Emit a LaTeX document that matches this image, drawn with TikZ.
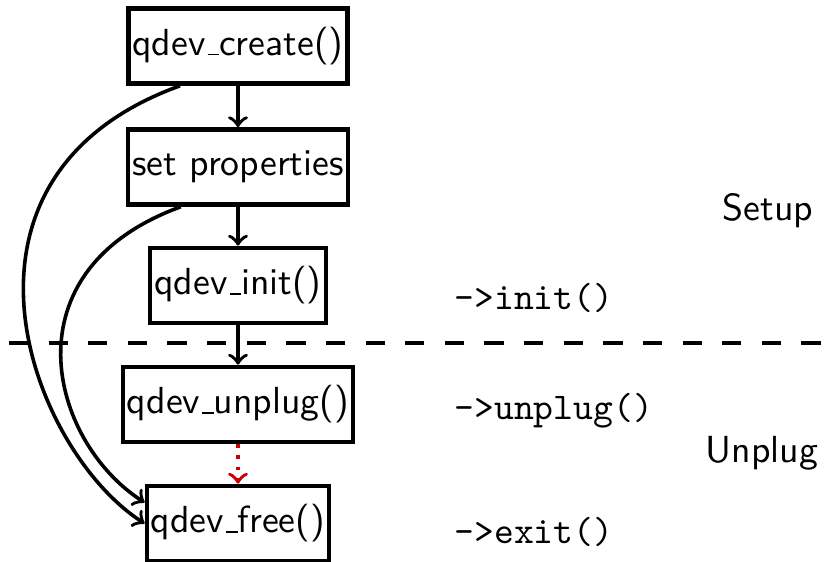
\documentclass[tikz,border=0pt]{standalone}
\usetikzlibrary{calc}
\definecolor{dotred}{RGB}{204,0,0}
% underscore sitting on the baseline, as in OT1 fonts
\newcommand\ulbar{\leavevmode\kern.06em\vbox{\hrule width.3em}}
\begin{document}
\begin{tikzpicture}[x=0.265pt,y=0.265pt,
  fnbox/.style={draw, line width=1.2pt, font=\sffamily, minimum height=19.9pt, inner xsep=1.1pt},
  link/.style={->, line width=0.95pt},
  phase/.style={font=\sffamily},
  hook/.style={font=\ttfamily, anchor=west, inner sep=0pt},
  separator/.style={line width=1.25pt, dash pattern=on 5.1pt off 5.4pt}]
\useasboundingbox (0,0) rectangle (825,562);

% lifecycle calls
\node[fnbox] (create) at (238,516)   {qdev\ulbar create()};
\node[fnbox] (props)  at (238,395)   {set properties};
\node[fnbox] (init)   at (238,276.5) {qdev\ulbar init()};
\node[fnbox] (unplug) at (238,157.5) {qdev\ulbar unplug()};
\node[fnbox] (free)   at (238,38.5)  {qdev\ulbar free()};

% driver callbacks
\node[hook] (cbinit)   at (454,264) {->init()};
\node[hook] (cbunplug) at (454,151) {->unplug()};
\node[hook] (cbexit)   at (454,30)  {->exit()};

% phase names
\node[phase] (setup) at (768,351) {Setup};
\node[phase] (unpl)  at (762,109) {Unplug};

% phase boundary
\coordinate (sepL) at (9,219);
\coordinate (sepR) at (825,219);
\draw[separator] (sepL) -- (sepR);

% main sequence
\draw[link] (create.south) -- (props.north);
\draw[link] (props.south) -- (init.north);
\draw[link] (init.south) -- (unplug.north);
\draw[link, dotred, dotted] (unplug.south) -- (free.north);

% error paths straight to free
\draw[link] ($(create.south west)+(54,0)$)
  .. controls +(-252,-91) and +(-115,74) .. (free.west);
\draw[link] ($(props.south west)+(55,0)$)
  .. controls +(-176,-64) and +(-95,61) .. ($(free.west)+(0,21)$);
\end{tikzpicture}
\end{document}
